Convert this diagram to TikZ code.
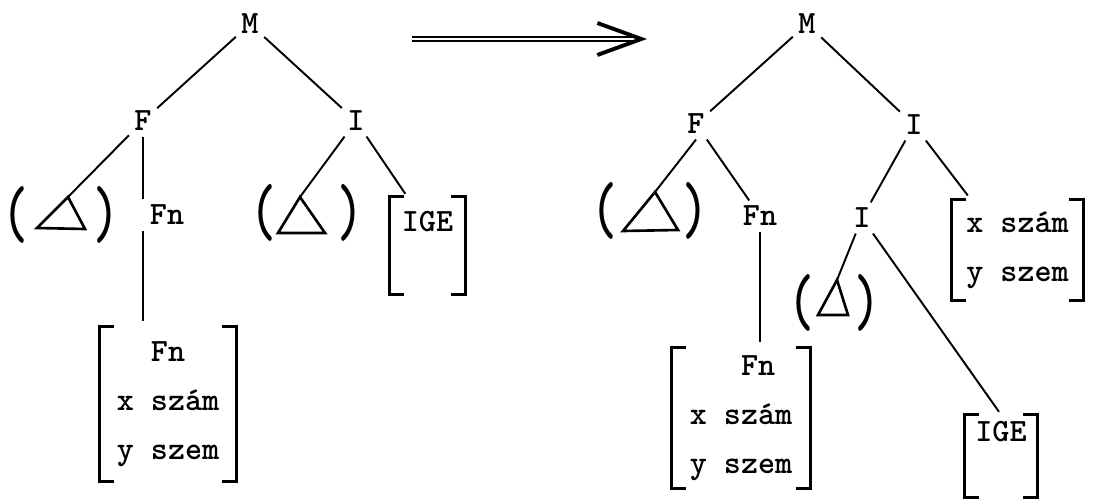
\documentclass[tikz,border=0pt]{standalone}
\usepackage{fontspec}
\usepackage{graphicx}
\usetikzlibrary{arrows.meta}
\tikzset{
  cat/.style={font=\ttfamily\bfseries\fontsize{18.5}{28}\selectfont, inner sep=3pt},
  brk/.style={font=\ttfamily\bfseries\fontsize{18.5}{28}\selectfont, align=left, inner sep=0pt},
  paren/.style={font=\ttfamily\bfseries\fontsize{28}{28}\selectfont, inner sep=0pt},
  lpar/.style={paren, node contents={\resizebox*{\width}{1.14cm}{(}}},
  rpar/.style={paren, node contents={\resizebox*{\width}{1.14cm}{)}}},
  link/.style={line width=1.1pt},
  tri/.style={line width=1.5pt, line join=miter},
  hook/.style={line width=1.4pt},
  trans/.style={double, line width=1.5pt, double distance=0.9pt,
                -{Straight Barb[length=0.88cm, width=0.64cm, line width=2.2pt]}},
}
\begin{document}
\begin{tikzpicture}[x=0.02cm, y=-0.02cm]
  \useasboundingbox (0,0) rectangle (1118,499);

  %% tree before the rule
  \node[cat] (lM) at (250,24) {M};
  \node[cat] (lF) at (143,121) {F};
  \node[cat] (lI) at (356,121) {I};
  \node[cat] (lFn) at (167,215) {Fn};
  \node (lp1) at (15,215) [lpar];
  \node (lp2) at (106,215) [rpar];
  \node (lp3) at (263,213) [lpar];
  \node (lp4) at (350,213) [rpar];
  \node[brk, minimum width=2.72cm, minimum height=3.08cm] (lmat) at (168,404)
    {\phantom{x }Fn\\x szám\\y szem};
  \node[brk, minimum width=1.5cm, minimum height=1.94cm] (lige) at (427.5,245.5)
    {IGE\\\phantom{I}};

  \coordinate (lta) at (68,197);
  \coordinate (ltl) at (37,228);
  \coordinate (ltr) at (85,229);
  \coordinate (lita) at (300,197);
  \coordinate (litl) at (278,233);
  \coordinate (litr) at (325,233);

  \draw[link] (lM) -- (lF);
  \draw[link] (lM) -- (lI);
  \draw[link] (lF) -- (lta);
  \draw[link] (lF) -- (lF |- lFn.north);
  \draw[link, shorten >=3pt] (lF |- lFn.south) -- (lF |- lmat.north);
  \draw[link] (lI) -- (lita);
  \draw[link, shorten >=2pt] (lI) -- ([xshift=10pt]lige.north west);
  \draw[tri] (lta) -- (ltr) -- (ltl) -- cycle;
  \draw[tri] (lita) -- (litr) -- (litl) -- cycle;

  %% the rule
  \coordinate (arA) at (412,39);
  \coordinate (arB) at (647,39);
  \draw[trans] (arA) -- (arB);

  %% tree after the rule
  \node[cat] (rM) at (807,24) {M};
  \node[cat] (rF) at (696,124) {F};
  \node[cat] (rI) at (914,125) {I};
  \node[cat] (rFn) at (760,216) {Fn};
  \node[cat] (rI2) at (862,218) {I};
  \node (rp1) at (604,211) [lpar];
  \node (rp2) at (695,211) [rpar];
  \node (rp3) at (801,303) [lpar];
  \node (rp4) at (867,303) [rpar];
  \node[brk, minimum width=2.76cm, minimum height=2.8cm] (rmat) at (741,418)
    {\phantom{x s}Fn\\x szám\\y szem};
  \node[brk, minimum width=2.62cm, minimum height=2cm] (rxy) at (1017.5,250)
    {x szám\\y szem};
  \node[brk, minimum width=1.44cm, minimum height=1.64cm] (rige) at (1001,456)
    {IGE\\\phantom{I}};

  \coordinate (rta) at (655,192);
  \coordinate (rtl) at (623,231);
  \coordinate (rtr) at (678,230);
  \coordinate (rita) at (837,280);
  \coordinate (ritl) at (818,315);
  \coordinate (ritr) at (848,315);

  \draw[link] (rM) -- (rF);
  \draw[link] (rM) -- (rI);
  \draw[link] (rF.south) -- (rta);
  \draw[link] (rF) -- (rFn);
  \draw[link, shorten >=3pt] (rFn) -- (rFn |- rmat.north);
  \draw[link] (rI) -- (rI2);
  \draw[link, shorten >=3pt] (rI) -- ([xshift=11pt]rxy.north west);
  \draw[link] (rI2) -- (rita);
  \draw[link, shorten >=2pt] (rI2) -- (rige.north);
  \draw[tri] (rta) -- (rtr) -- (rtl) -- cycle;
  \draw[tri] (rita) -- (ritr) -- (ritl) -- cycle;

  %% square brackets round the feature bundles
  \foreach \b in {lmat,lige,rmat,rxy,rige} {
    \draw[hook] ([xshift=8pt]\b.north west) -- (\b.north west)
      -- (\b.south west) -- ([xshift=8pt]\b.south west);
    \draw[hook] ([xshift=-8pt]\b.north east) -- (\b.north east)
      -- (\b.south east) -- ([xshift=-8pt]\b.south east);
  }
\end{tikzpicture}
\end{document}
